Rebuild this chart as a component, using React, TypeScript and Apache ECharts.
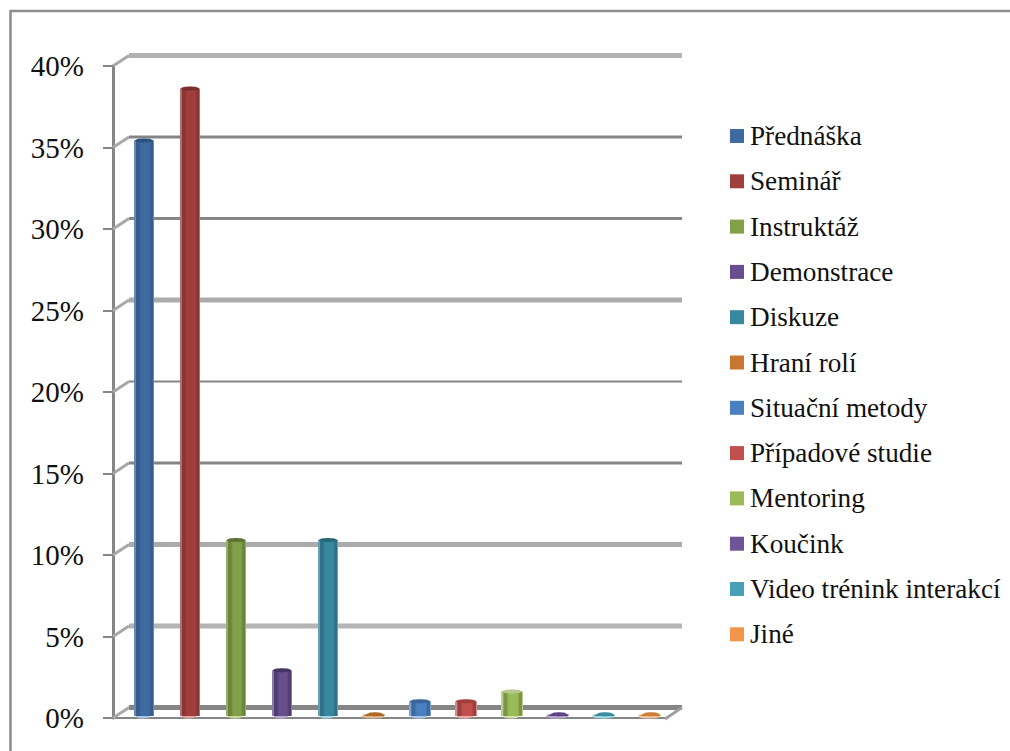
import React, { useEffect, useRef } from "react";
import * as echarts from "echarts";

// Share of each training method, in percent.
const methods = [
  "Přednáška",
  "Seminář",
  "Instruktáž",
  "Demonstrace",
  "Diskuze",
  "Hraní rolí",
  "Situační metody",
  "Případové studie",
  "Mentoring",
  "Koučink",
  "Video trénink interakcí",
  "Jiné",
];
const shares = [35.3, 38.5, 10.8, 2.8, 10.8, 0.1, 0.9, 0.9, 1.5, 0.1, 0.1, 0.1];
const wallTicks = [0, 5, 10, 15, 20, 25, 30, 35, 40];

// Cylinder shading per series: base, shadow edge, outer rim, top cap, foot.
const swatches = ["#3f6a9f", "#a03e3c", "#81a048", "#684e8c", "#37879e", "#c9762e", "#4a7fc0", "#c0504d", "#9bbb59", "#6f5596", "#46a0b8", "#f0954a"];
const shadows = ["#345d90", "#8a3634", "#6a8539", "#503c72", "#2d7288", "#a86023", "#3a6aa0", "#9c403e", "#7a9642", "#4e3b70", "#2f7d92", "#c9762e"];
const rims = ["#6d88ab", "#a87170", "#98ae71", "#8c79a6", "#6a9fb0", "#dca878", "#7fa3d0", "#d98a88", "#bccf8e", "#a594bb", "#8cc4d2", "#f4bf93"];
const caps = ["#2c5080", "#7a2f2e", "#5c7333", "#46335f", "#28667a", "#b06a25", "#3a659a", "#a23f3d", "#b5c98a", "#5d4585", "#3a8ba3", "#cf7f35"];
const feet = ["#a9c4e6", "#e0a3a2", "#c8d9a0", "#b5a5cc", "#a0d4e2", "#e0b48c", "#a9c4e6", "#e8a8a6", "#d2e0ab", "#b5a5cc", "#a0d4e2", "#f0c49c"];

// Back wall rules differ in weight from level to level.
const wallWidths = [5, 5, 5, 3, 2, 5, 3, 3, 5];
const wallColors = ["#858585", "#b4b4b4", "#ababab", "#858585", "#858585", "#ababab", "#858585", "#858585", "#b2b2b2"];

const AXIS_GRAY = "#868686";
const SERIF = "'Liberation Serif', 'Times New Roman', serif";

// Depth of the pseudo 3D box, in pixels.
const DEPTH_X = 16;
const DEPTH_Y = -10.5;

const renderWall = (params: any, api: any) => {
  const i = params.dataIndex;
  const sys = params.coordSys;
  const y = api.coord([0, api.value(1)])[1];
  const backY = y + DEPTH_Y;
  const children: any[] = [
    {
      type: "line",
      shape: { x1: sys.x + DEPTH_X, y1: backY, x2: sys.x + sys.width + 17, y2: backY },
      style: { stroke: wallColors[i], lineWidth: wallWidths[i] },
    },
    {
      type: "line",
      shape: { x1: sys.x, y1: y, x2: sys.x + DEPTH_X, y2: backY },
      style: { stroke: "#a8a8a8", lineWidth: 3 },
    },
  ];
  if (i === 0) {
    children.push({
      type: "line",
      shape: { x1: sys.x + sys.width, y1: y + 1, x2: sys.x + sys.width + 17, y2: backY },
      style: { stroke: "#a0a0a0", lineWidth: 3 },
    });
  }
  return { type: "group", children };
};

const renderCylinder = (params: any, api: any) => {
  const s = params.seriesIndex - 1;
  const value = api.value(1);
  const [cx0, yTop] = api.coord([api.value(0), value]);
  const [, yZero] = api.coord([api.value(0), 0]);
  const cx = cx0 + 8;
  const base = yZero - 2;
  const top = yTop - 2;
  const w = value < 2 ? 22 : 20;
  const rx = w / 2;
  const gradient = new echarts.graphic.LinearGradient(0, 0, 1, 0, [
    { offset: 0, color: rims[s] },
    { offset: 0.1, color: rims[s] },
    { offset: 0.12, color: shadows[s] },
    { offset: 0.25, color: shadows[s] },
    { offset: 0.35, color: swatches[s] },
    { offset: 0.75, color: swatches[s] },
    { offset: 0.85, color: shadows[s] },
    { offset: 0.94, color: shadows[s] },
    { offset: 0.96, color: rims[s] },
    { offset: 1, color: rims[s] },
  ]);
  return {
    type: "group",
    children: [
      {
        type: "ellipse",
        shape: { cx: cx - 1, cy: base + 0.5, rx: value < 0.5 ? rx : rx - 3, ry: 2 },
        style: { fill: feet[s] },
      },
      {
        type: "rect",
        shape: { x: cx - rx, y: top, width: w, height: Math.max(base - top, 0) },
        style: { fill: gradient },
      },
      {
        type: "ellipse",
        shape: { cx: value < 0.5 ? cx + 1 : cx, cy: top, rx: value < 0.5 ? rx - 3 : rx - 1, ry: 2 },
        style: { fill: caps[s] },
      },
    ],
  };
};

export default function App() {
  const ref = useRef<HTMLDivElement>(null);

  useEffect(() => {
    const chart = echarts.init(ref.current!, undefined, { renderer: "svg" });
    chart.setOption({
      animation: false,
      backgroundColor: "#ffffff",
      grid: { left: 113, top: 66, width: 552, height: 652 },
      xAxis: {
        type: "category",
        data: methods,
        offset: 1,
        axisLine: { lineStyle: { color: AXIS_GRAY, width: 2 } },
        axisTick: { show: false },
        axisLabel: { show: false },
        splitLine: { show: false },
      },
      yAxis: {
        type: "value",
        min: 0,
        max: 40,
        interval: 5,
        axisLine: { show: true, lineStyle: { color: AXIS_GRAY, width: 3 } },
        axisTick: { show: true, length: 10, lineStyle: { color: AXIS_GRAY, width: 2 } },
        axisLabel: {
          formatter: "{value}%",
          margin: 29,
          fontFamily: SERIF,
          fontSize: 29,
          color: "#111111",
        },
        splitLine: { show: false },
      },
      legend: {
        orient: "vertical",
        left: 730,
        top: 121,
        padding: 0,
        itemWidth: 14,
        itemHeight: 14,
        itemGap: 15.3,
        icon: "rect",
        data: methods,
        selectedMode: false,
        textStyle: {
          fontFamily: SERIF,
          fontSize: 27.2,
          color: "#111111",
          lineHeight: 28,
          padding: [2, 0, 0, 1],
        },
      },
      graphic: [
        {
          type: "polyline",
          silent: true,
          shape: { points: [[10.5, 751], [10.5, 11], [1010, 11]] },
          style: { stroke: "#8c8c8c", lineWidth: 2.5, fill: "none" },
        },
      ],
      series: [
        {
          type: "custom",
          name: "Mřížka",
          silent: true,
          clip: false,
          renderItem: renderWall,
          encode: { x: 0, y: 1 },
          data: wallTicks.map((t) => [0, t]),
          z: 1,
        },
        ...methods.map((name, i) => ({
          type: "custom",
          name,
          clip: false,
          renderItem: renderCylinder,
          encode: { x: 0, y: 1 },
          itemStyle: { color: swatches[i] },
          data: [[i, shares[i]]],
          z: 2,
        })),
      ],
    });
    return () => chart.dispose();
  }, []);

  return (
    <div
      ref={ref}
      style={{ position: "absolute", left: 0, top: 0, width: 1010, height: 751 }}
    />
  );
}
